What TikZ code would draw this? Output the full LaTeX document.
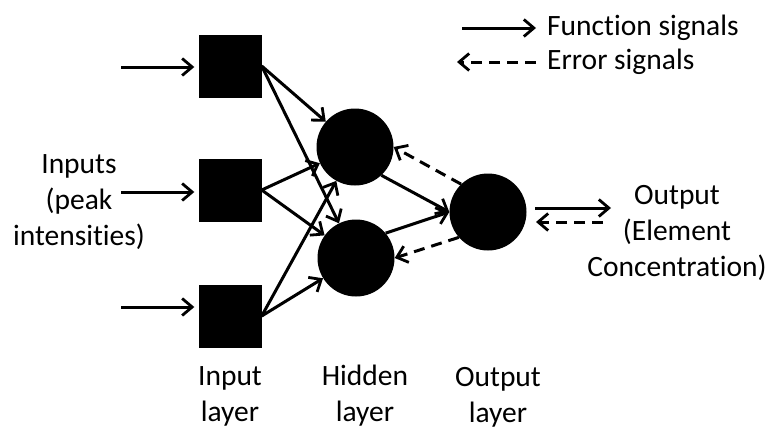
\documentclass[tikz,border=0pt]{standalone}
\usepackage{fontspec}
\setmainfont{Carlito}[Ligatures=NoCommon]
\usetikzlibrary{arrows.meta}
\begin{document}
\begin{tikzpicture}[x=1pt,y=-1pt,
  sq/.style={fill=black,minimum size=63pt,inner sep=0pt},
  neuron/.style={circle,fill=black,minimum size=77pt,inner sep=0pt},
  sig/.style={line width=3pt,-{Straight Barb[length=10pt,width=17pt,line width=2.8pt]}},
  err/.style={sig,dash pattern=on 11pt off 7pt},
  lbl/.style={font=\fontsize{29.5}{36}\selectfont,align=center,inner sep=0pt,anchor=base}]
\useasboundingbox (0,0) rectangle (771,429);
% nodes
\node[sq] (s1) at (230,66) {};
\node[sq] (s2) at (230,190) {};
\node[sq] (s3) at (230,316) {};
\node[neuron] (h1) at (355,147) {};
\node[neuron] (h2) at (356,258) {};
\node[neuron] (o) at (488,212) {};
% input arrows
\coordinate (i1) at (121,67);
\coordinate (i2) at (121,192);
\coordinate (i3) at (121,307);
\draw[sig,shorten >=4pt] (i1) -- (i1 -| s1.west);
\draw[sig,shorten >=4pt] (i2) -- (i2 -| s2.west);
\draw[sig,shorten >=4pt] (i3) -- (i3 -| s3.west);
% input to hidden
\foreach \s in {s1,s2,s3}{
  \draw[sig] (\s.east) -- (h1);
  \draw[sig] (\s.east) -- (h2);
}
% hidden to output
\draw[sig] (h1.-47) -- (o.west);
\draw[sig] (h2.40) -- (o.west);
% error back
\draw[err] (o.134) -- (h1.east);
\draw[err] (o.221) -- (h2.east);
% output arrows
\coordinate (oa) at (535,208);
\coordinate (ob) at (611,208);
\coordinate (oc) at (603,222);
\coordinate (od) at (536,222);
\draw[sig] (oa) -- (ob);
\draw[err] (oc) -- (od);
% legend
\coordinate (la) at (462,28);
\coordinate (lb) at (536,28);
\coordinate (lc) at (536,62);
\coordinate (ld) at (457,62);
\draw[sig] (la) -- (lb);
\draw[err] (lc) -- (ld);
\node[lbl,anchor=base west] (tf) at (547,35) {Function signals};
\node[lbl,anchor=base west] (te) at (547,69) {Error signals};
% labels
\node[lbl] (tin) at (79,245) {Inputs\\(peak\\intensities)};
\node[lbl] (tout) at (677,276) {Output\\(Element\\Concentration)};
\node[lbl] (til) at (230,421) {Input\\layer};
\node[lbl] (thl) at (365,421) {Hidden\\layer};
\node[lbl] (tol) at (498,422) {Output\\layer};
\end{tikzpicture}
\end{document}
